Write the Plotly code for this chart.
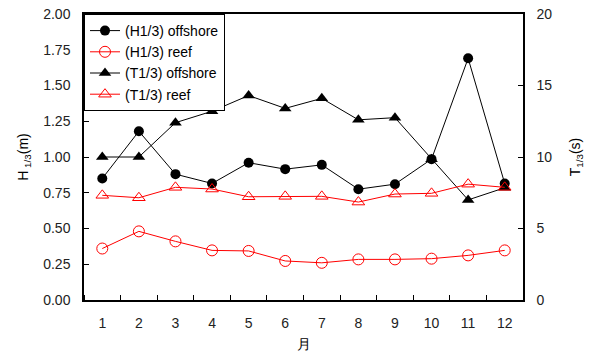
import plotly.graph_objects as go

months = [1, 2, 3, 4, 5, 6, 7, 8, 9, 10, 11, 12]
h_offshore = [0.85, 1.18, 0.88, 0.815, 0.96, 0.915, 0.945, 0.775, 0.81, 0.985, 1.69, 0.815]
h_reef = [0.36, 0.48, 0.41, 0.347, 0.343, 0.273, 0.26, 0.284, 0.284, 0.289, 0.312, 0.347]
t_offshore = [10.0, 10.0, 12.4, 13.2, 14.3, 13.4, 14.1, 12.6, 12.75, 9.85, 7.0, 7.85]
t_reef = [7.32, 7.15, 7.88, 7.76, 7.22, 7.25, 7.25, 6.85, 7.41, 7.46, 8.1, 7.88]

font = dict(family="Arial, Liberation Sans, sans-serif", size=14, color="black")
tickfont = dict(family="Arial, Liberation Sans, sans-serif", size=14, color="#222222")

fig = go.Figure()
fig.add_trace(go.Scatter(x=months, y=h_offshore, name="(H1/3) offshore", mode="lines+markers",
                         line=dict(color="black", width=1),
                         marker=dict(symbol="circle", size=10, color="black")))
fig.add_trace(go.Scatter(x=months, y=h_reef, name="(H1/3) reef", mode="lines+markers",
                         line=dict(color="#ff0000", width=1),
                         marker=dict(symbol="circle-open", size=11, color="#ff0000", line=dict(width=1))))
fig.add_trace(go.Scatter(x=months, y=t_offshore, name="(T1/3) offshore", mode="lines+markers", yaxis="y2",
                         line=dict(color="black", width=1),
                         marker=dict(symbol="triangle-up", size=11, color="black")))
fig.add_trace(go.Scatter(x=months, y=t_reef, name="(T1/3) reef", mode="lines+markers", yaxis="y2",
                         line=dict(color="#ff0000", width=1),
                         marker=dict(symbol="triangle-up-open", size=11, color="#ff0000", line=dict(width=1))))

fig.update_layout(
    width=592, height=356,
    margin=dict(l=84, r=69, t=14, b=56),
    paper_bgcolor="white", plot_bgcolor="white",
    font=font,
    showlegend=True,
    legend=dict(x=0, y=1, xanchor="left", yanchor="top", bordercolor="black", borderwidth=1,
                bgcolor="white", font=font, tracegroupgap=0, itemwidth=30),
    xaxis=dict(range=[0.5, 12.5], tickvals=months, ticktext=[str(m) for m in months],
               ticks="", showgrid=False, zeroline=False, showline=True, linecolor="black", linewidth=1.5,
               mirror=True, ticklabelstandoff=9, tickfont=tickfont, automargin=False,
               minor=dict(ticks="inside", tick0=0.5, dtick=1, ticklen=5, tickcolor="black", showgrid=False),
               title=dict(text="月", font=font, standoff=10)),
    yaxis=dict(range=[0, 2], tickvals=[0, 0.25, 0.5, 0.75, 1.0, 1.25, 1.5, 1.75, 2.0], tickformat=".2f",
               ticks="inside", ticklen=5, tickcolor="black", showgrid=False, zeroline=False, automargin=False,
               showline=True, linecolor="black", linewidth=1.5, ticklabelstandoff=9, tickfont=tickfont,
               title=dict(text="H<sub> 1/3</sub>(m)", font=font, standoff=11)),
    yaxis2=dict(range=[0, 20], tickvals=[0, 5, 10, 15, 20], overlaying="y", side="right", automargin=False,
                ticks="inside", ticklen=5, tickcolor="black", showgrid=False, zeroline=False,
                showline=True, linecolor="black", linewidth=1.5, ticklabelstandoff=9, tickfont=tickfont,
                title=dict(text="T<sub>1/3</sub>(s)", font=font, standoff=19)),
)

fig.write_html("out.html")
